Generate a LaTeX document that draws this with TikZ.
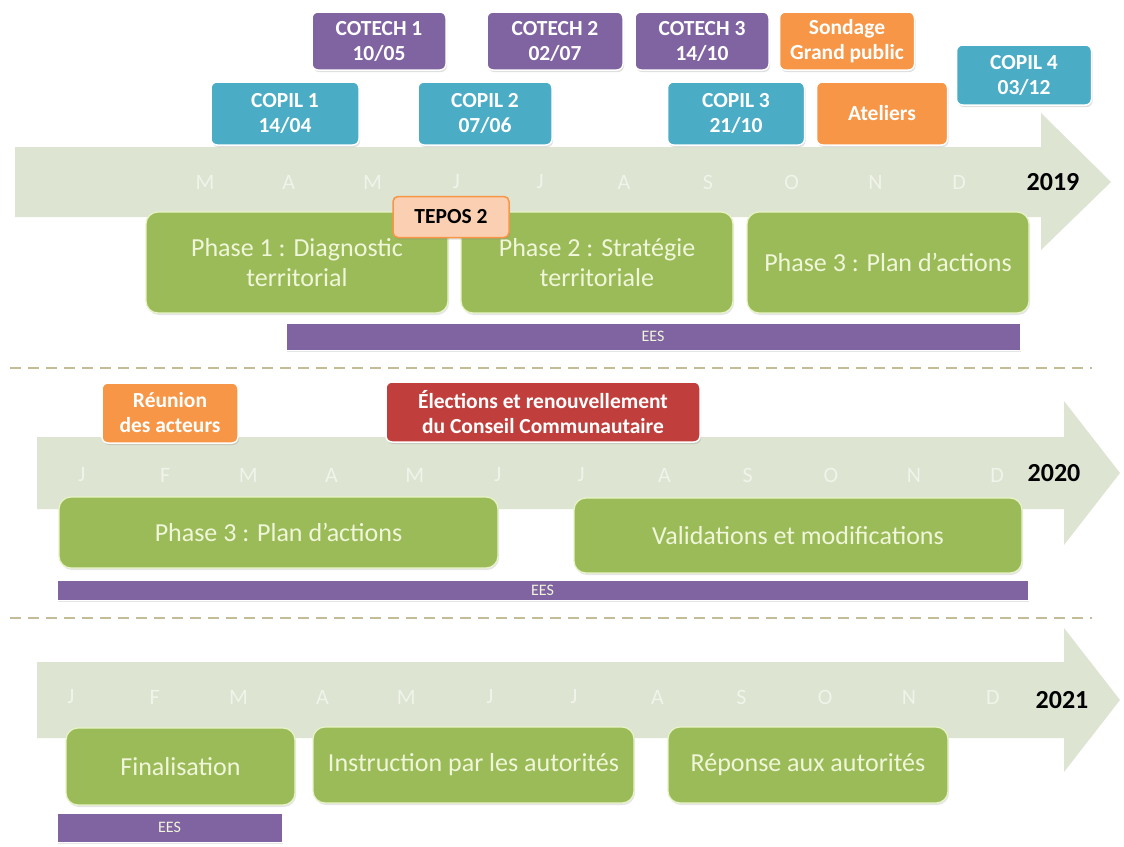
\documentclass[tikz,border=0pt]{standalone}
\usepackage{fontspec}
\setmainfont{Carlito}
\usetikzlibrary{shadows}
\definecolor{band}{RGB}{221,228,210}
\definecolor{mon}{RGB}{240,244,234}
\definecolor{grn}{RGB}{155,187,89}
\definecolor{grnline}{RGB}{232,244,200}
\definecolor{grntxt}{RGB}{240,246,218}
\definecolor{pur}{RGB}{128,100,162}
\definecolor{aqua}{RGB}{75,172,198}
\definecolor{orng}{RGB}{247,150,70}
\definecolor{redb}{RGB}{192,63,60}
\definecolor{tepos}{RGB}{251,208,178}
\definecolor{dashc}{RGB}{196,188,150}
\tikzset{
  evt/.style={draw=white, line width=1.5pt, rounded corners=6pt, text=white, align=center,
    inner sep=0pt, font=\fontsize{21.5}{25}\selectfont\bfseries,
    drop shadow={shadow xshift=1pt, shadow yshift=-2pt, opacity=.25}},
  phasebox/.style={fill=grn, draw=grnline, line width=1.2pt, rounded corners=12pt, text=grntxt,
    align=center, inner sep=0pt, font=\fontsize{26}{30}\selectfont,
    drop shadow={shadow xshift=1pt, shadow yshift=-2pt, opacity=.2}},
  eesbar/.style={fill=pur, draw=white, line width=1pt, text=grntxt, inner sep=0pt,
    font=\fontsize{16}{18}\selectfont,
    drop shadow={shadow xshift=1pt, shadow yshift=-2pt, opacity=.2}},
  monthlbl/.style={text=mon, font=\fontsize{22}{26}\selectfont, inner sep=0pt},
  yearlbl/.style={text=black, font=\fontsize{26}{30}\selectfont\bfseries, inner sep=0pt},
  sep/.style={draw=dashc, line width=2.2pt, dash pattern=on 11pt off 7pt},
}
\begin{document}
\begin{tikzpicture}[x=1pt,y=-1pt]
\useasboundingbox (0,0) rectangle (1124,846);
\fill[white] (0,0) rectangle (1124,846);

% timeline arrows
\fill[band] (15,147) -- (1041,147) -- (1041,113) -- (1111,182) -- (1041,250) -- (1041,217) -- (15,217) -- cycle;
\fill[band] (37,437) -- (1064,437) -- (1064,401) -- (1120,473) -- (1064,545) -- (1064,509) -- (37,509) -- cycle;
\fill[band] (37,662) -- (1064,662) -- (1064,628) -- (1120,700) -- (1064,772) -- (1064,738) -- (37,738) -- cycle;

% months
\foreach \m [count=\i from 0] in {M,A,M,J,J,A,S,O,N,D}
  \node[monthlbl] (ma\i) at ({205+83.8*\i},182) {\m};
\foreach \m [count=\i from 0] in {J,F,M,A,M,J,J,A,S,O,N,D}
  \node[monthlbl] (mb\i) at ({82+83.2*\i},475) {\m};
\foreach \m [count=\i from 0] in {J,F,M,A,M,J,J,A,S,O,N,D}
  \node[monthlbl] (mc\i) at ({71+83.8*\i},697) {\m};

\node[yearlbl] (y2019) at (1053,182) {2019};
\node[yearlbl] (y2020) at (1054,473) {2020};
\node[yearlbl] (y2021) at (1062,700) {2021};

% separators
\coordinate (s1a) at (10,368); \coordinate (s1b) at (1092,368);
\coordinate (s2a) at (10,618); \coordinate (s2b) at (1092,618);
\draw[sep] (s1a) -- (s1b);
\draw[sep] (s2a) -- (s2b);

% 2019 events
\node[evt, fill=pur, minimum width=134pt, minimum height=58pt] (cotech1) at (379,41) {COTECH 1\\10/05};
\node[evt, fill=pur, minimum width=136pt, minimum height=58pt] (cotech2) at (555,41) {COTECH 2\\02/07};
\node[evt, fill=pur, minimum width=134pt, minimum height=58pt] (cotech3) at (702,41) {COTECH 3\\14/10};
\node[evt, fill=orng, minimum width=135pt, minimum height=58pt] (sondage) at (847,41) {Sondage\\Grand public};
\node[evt, fill=aqua, minimum width=148pt, minimum height=63pt] (copil1) at (285,113.5) {COPIL 1\\14/04};
\node[evt, fill=aqua, minimum width=134pt, minimum height=63pt] (copil2) at (485,113.5) {COPIL 2\\07/06};
\node[evt, fill=aqua, minimum width=137pt, minimum height=63pt] (copil3) at (736,113.5) {COPIL 3\\21/10};
\node[evt, fill=orng, minimum width=131pt, minimum height=63pt] (ateliers) at (882,113.5) {Ateliers};
\node[evt, fill=aqua, minimum width=135pt, minimum height=60pt] (copil4) at (1024,75) {COPIL 4\\03/12};

\node[phasebox, minimum width=302pt, minimum height=101pt] (ph1) at (297,262.5) {Phase 1 : Diagnostic\\territorial};
\node[phasebox, minimum width=272pt, minimum height=101pt] (ph2) at (597,262.5) {Phase 2 : Stratégie\\territoriale};
\node[phasebox, minimum width=282pt, minimum height=101pt] (ph3) at (888,262.5) {Phase 3 : Plan d’actions};
\node[evt, fill=tepos, draw=orng, line width=1.5pt, text=black, rounded corners=5pt,
  minimum width=116pt, minimum height=41pt] (tepos) at (451,217) {TEPOS 2};
\node[eesbar, minimum width=734pt, minimum height=27pt] (ees1) at (653,336.5) {EES};

% 2020
\node[evt, fill=orng, minimum width=136pt, minimum height=60pt] (reunion) at (170,413) {Réunion\\des acteurs};
\node[evt, fill=redb, minimum width=314pt, minimum height=60pt] (elections) at (543,412) {Élections et renouvellement\\du Conseil Communautaire};
\node[phasebox, minimum width=439pt, minimum height=71pt] (ph3b) at (278.5,532.5) {Phase 3 : Plan d’actions};
\node[phasebox, minimum width=448pt, minimum height=75pt] (valid) at (798,535.5) {Validations et modifications};
\node[eesbar, minimum width=971pt, minimum height=20pt] (ees2) at (542.5,590) {EES};

% 2021
\node[phasebox, minimum width=229pt, minimum height=77pt] (final) at (180.5,766.5) {Finalisation};
\node[phasebox, minimum width=321pt, minimum height=76pt] (instr) at (473.5,765) {Instruction par les autorités};
\node[phasebox, minimum width=280pt, minimum height=76pt] (repon) at (808,765) {Réponse aux autorités};
\node[eesbar, minimum width=225pt, minimum height=29pt] (ees3) at (169.5,827.5) {EES};
\end{tikzpicture}
\end{document}
